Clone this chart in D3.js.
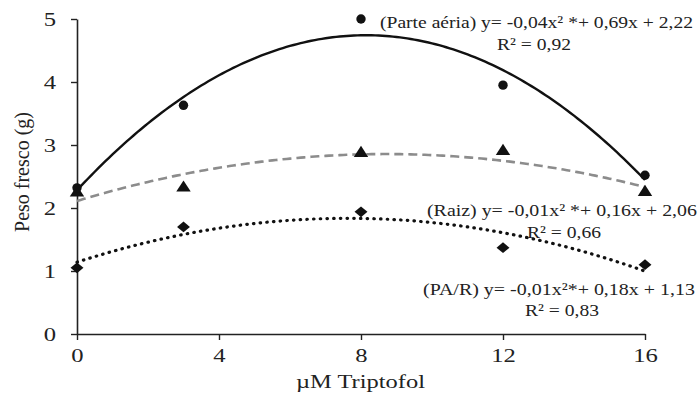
<!DOCTYPE html>
<html><head><meta charset="utf-8">
<script src="https://cdn.jsdelivr.net/npm/d3@7"></script>
<style>
html,body{margin:0;padding:0;background:#fff;}
svg{display:block;font-family:"Liberation Serif","Times New Roman",serif;}
</style></head>
<body><svg id="c" width="700" height="396"></svg>
<script>
// ---- data ----
const doses = [0, 3, 8, 12, 16];
const parteAerea = [2.32, 3.63, 5.00, 3.95, 2.52];
const raiz = [2.24, 2.32, 2.87, 2.90, 2.25];
const paR = [1.05, 1.70, 1.94, 1.37, 1.10];
const xTicks = [0, 4, 8, 12, 16];
const yTicks = [0, 1, 2, 3, 4, 5];
const eqLabels = [
  "(Parte aéria) y= -0,04x² *+ 0,69x + 2,22",
  "(Raiz)  y= -0,01x² *+ 0,16x + 2,06",
  "(PA/R)  y= -0,01x²*+ 0,18x + 1,13"
];
const r2Labels = ["R² = 0,92", "R² = 0,66", "R² = 0,83"];

const svg = d3.select("#c");
const x = d3.scaleLinear().domain([0, 16]).range([77, 645]);
const y = d3.scaleLinear().domain([0, 5]).range([334, 19]);

// quadratic least-squares trend from data
function quadFit(xs, ys) {
  let S = [0,0,0,0,0], T = [0,0,0];
  xs.forEach((xi, i) => {
    for (let k = 0; k < 5; k++) S[k] += Math.pow(xi, k);
    for (let k = 0; k < 3; k++) T[k] += Math.pow(xi, k) * ys[i];
  });
  const A = [[S[0],S[1],S[2],T[0]],[S[1],S[2],S[3],T[1]],[S[2],S[3],S[4],T[2]]];
  for (let i = 0; i < 3; i++) {
    for (let j = i + 1; j < 3; j++) {
      const f = A[j][i] / A[i][i];
      for (let k = i; k < 4; k++) A[j][k] -= f * A[i][k];
    }
  }
  const c = [0,0,0];
  for (let i = 2; i >= 0; i--) {
    let s = A[i][3];
    for (let k = i + 1; k < 3; k++) s -= A[i][k] * c[k];
    c[i] = s / A[i][i];
  }
  return t => c[0] + c[1] * t + c[2] * t * t;
}
const grid = d3.range(0, 16.001, 0.1);
function trend(vals) {
  const f = quadFit(doses, vals);
  return grid.map(t => [t, f(t)]);
}
const line = d3.line().x(d => x(d[0])).y(d => y(d[1]));

// axes
const axisColor = "#222";
const gx = svg.append("g").attr("transform", "translate(0,334)")
  .call(d3.axisBottom(x).tickValues(xTicks).tickFormat(d3.format("d"))
    .tickSize(6).tickPadding(9).tickSizeOuter(0));
const gy = svg.append("g").attr("transform", "translate(77,0)")
  .call(d3.axisLeft(y).tickValues(yTicks).tickFormat(d3.format("d"))
    .tickSize(6).tickPadding(15).tickSizeOuter(0));
[gx, gy].forEach(g => {
  g.select(".domain").attr("stroke", axisColor).attr("stroke-width", 1.6);
  g.selectAll(".tick line").attr("stroke", axisColor).attr("stroke-width", 1.4);
  g.selectAll(".tick text").attr("fill", "#222")
    .style("font-family", "'Liberation Serif', serif").style("font-size", "19px")
    .attr("textLength", function() { return this.textContent.length * 12.3; })
    .attr("lengthAdjust", "spacingAndGlyphs");
});

// trend lines
svg.append("path").attr("d", line(trend(raiz)))
  .attr("fill", "none").attr("stroke", "#8c8c8c").attr("stroke-width", 2.6)
  .attr("stroke-dasharray", "9,5");
svg.append("path").attr("d", line(trend(paR)))
  .attr("fill", "none").attr("stroke", "#111").attr("stroke-width", 3.2)
  .attr("stroke-linecap", "round").attr("stroke-dasharray", "0.5,6.2");
svg.append("path").attr("d", line(trend(parteAerea)))
  .attr("fill", "none").attr("stroke", "#111").attr("stroke-width", 2.4);

// markers
svg.append("g").selectAll("path").data(doses).join("path")
  .attr("transform", (d, i) => `translate(${x(d)},${y(raiz[i])}) scale(1.12,1)`)
  .attr("d", d3.symbol().type(d3.symbolTriangle).size(72)).attr("fill", "#111");
svg.append("g").selectAll("path").data(doses).join("path")
  .attr("transform", (d, i) => `translate(${x(d)},${y(paR[i])}) scale(1.2,1) rotate(45)`)
  .attr("d", d3.symbol().type(d3.symbolSquare).size(58)).attr("fill", "#111");
svg.append("g").selectAll("circle").data(doses).join("circle")
  .attr("cx", d => x(d)).attr("cy", (d, i) => y(parteAerea[i])).attr("r", 4.7).attr("fill", "#111");

// equation labels
const eqPos = [[380, 28, 313], [427, 216, 270], [423, 295, 272]];
const r2Pos = [[534, 50, 74], [564, 238, 74], [562, 316, 74]];
eqLabels.forEach((t, i) => {
  svg.append("text").attr("x", eqPos[i][0]).attr("y", eqPos[i][1])
    .attr("fill", "#222").style("font-size", "17.5px")
    .attr("textLength", eqPos[i][2]).attr("lengthAdjust", "spacingAndGlyphs").text(t);
  svg.append("text").attr("x", r2Pos[i][0] - r2Pos[i][2] / 2).attr("y", r2Pos[i][1])
    .attr("fill", "#222").style("font-size", "17.5px")
    .attr("textLength", r2Pos[i][2]).attr("lengthAdjust", "spacingAndGlyphs").text(r2Labels[i]);
});

// axis titles
svg.append("text").attr("x", 296).attr("y", 388)
  .attr("fill", "#222").style("font-size", "19px")
  .attr("textLength", 129).attr("lengthAdjust", "spacingAndGlyphs").text("µM Triptofol");
svg.append("text").attr("transform", "translate(29,172) rotate(-90)")
  .attr("text-anchor", "middle").attr("fill", "#222").style("font-size", "20px")
  .text("Peso fresco (g)");
</script></body></html>
